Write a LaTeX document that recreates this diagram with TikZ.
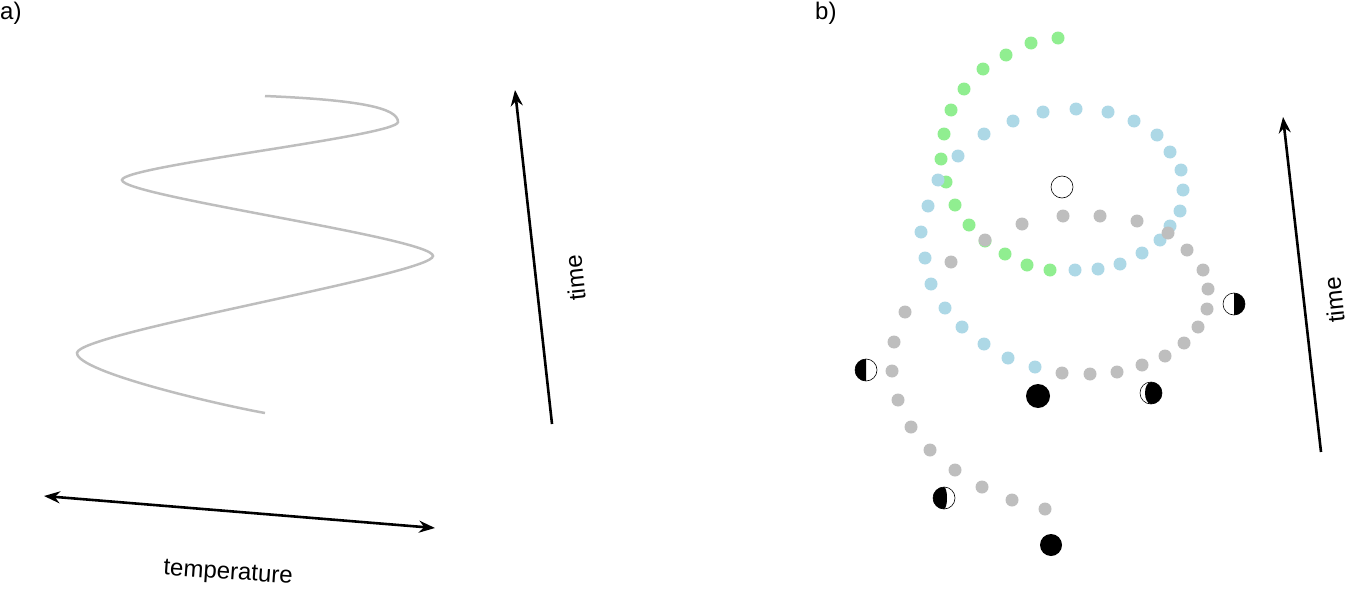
\documentclass[tikz,border=0pt]{standalone}
\usepackage{fontspec}
\setmainfont{Liberation Sans}
\usetikzlibrary{arrows.meta}
\definecolor{dgray}{RGB}{190,190,190}
\definecolor{dblue}{RGB}{173,216,230}
\definecolor{dgreen}{RGB}{144,238,144}
\begin{document}
\begin{tikzpicture}[x=1pt,y=-1pt,
  lbl/.style={font=\fontsize{24}{28}\selectfont,inner sep=0},
  tip/.style={Stealth[length=16pt,width=12pt]},
  arr/.style={line width=2.6pt,-{Stealth[length=16pt,width=12pt]}},
  moonc/.style={draw=black,line width=0.6pt,fill=white}]
\useasboundingbox (0,0) rectangle (1350,589);
\node[lbl,anchor=north west] (la) at (0,2) {a)};
\node[lbl,anchor=north west] (lb) at (815,2) {b)};
% a) curve
\draw[dgray,line width=2.5pt] (265,96) .. controls (360,100) and (398,108) .. (398,122)
  .. controls (398,136) and (122,166) .. (122,180)
  .. controls (122,196) and (433,238) .. (433,256)
  .. controls (433,274) and (77,333) .. (77,353)
  .. controls (77,372) and (220,405) .. (265,413);
\coordinate (t1) at (44,496); \coordinate (t2) at (435,528);
\draw[line width=2.6pt,{Stealth[length=16pt,width=12pt]}-{Stealth[length=16pt,width=12pt]}] (t1) -- (t2);
\node[lbl,rotate=-4] (temp) at (228,574) {temperature};
\coordinate (a1) at (552,424); \coordinate (a2) at (515,90);
\draw[arr] (a1) -- (a2);
\node[lbl,rotate=96] (timea) at (575,278) {time};
\coordinate (b1) at (1321,452); \coordinate (b2) at (1283,117);
\draw[arr] (b1) -- (b2);
\node[lbl,rotate=96] (timeb) at (1334,300) {time};
% dots
\foreach \p in {(1058,38),(1031,43),(1006,55),(983,69),(964,89),(951,110),(944,134),(941,159),(946,182),(955,205),(969,225),(985,241),(1005,254),(1027,265),(1050,270)}
  \fill[dgreen] \p circle (6.5);
\foreach \p in {(1075,270),(1098,269),(1120,264),(1142,253),(1160,240),(1170,226),(1180,211),(1183,190),(1181,170),(1170,152),(1157,135),(1134,121),(1108,112),(1076,109),(1043,112),(1013,121),(984,134),(958,156),(938,180),(928,206),(921,232),(925,258),(931,284),(945,308),(962,327),(984,344),(1008,358),(1035,367)}
  \fill[dblue] \p circle (6.5);
\foreach \p in {(1062,373),(1090,374),(1117,372),(1142,365),(1165,356),(1184,343),(1198,327),(1207,309),(1208,289),(1203,270),(1187,250),(1168,233),(1137,221),(1100,216),(1063,216),(1022,224),(985,240),(951,262),(905,312),(894,342),(892,371),(898,400),(911,427),(930,450),(955,470),(982,487),(1012,500),(1045,509)}
  \fill[dgray] \p circle (6.5);
% open circle
\draw[moonc] (1062,187) circle (11);
% moons (inner scopes use y upward)
\draw[moonc] (866,370) circle (11);
\begin{scope}[shift={(866,370)},yscale=-1]
  \fill (0,11) arc[start angle=90,end angle=270,radius=11] -- cycle;
\end{scope}
\draw[moonc] (1234,304) circle (11);
\begin{scope}[shift={(1234,304)},yscale=-1]
  \fill (0,11) arc[start angle=90,end angle=-90,radius=11] -- cycle;
\end{scope}
\fill (1038,396) circle (12);
\fill (1051,545) circle (11);
\draw[moonc] (1151,393) circle (11);
\begin{scope}[shift={(1151,393)},yscale=-1]
  \fill (0,11) arc[start angle=90,end angle=-90,radius=11] arc[start angle=270,end angle=90,x radius=6,y radius=11];
\end{scope}
\draw[moonc] (944,498) circle (11);
\begin{scope}[shift={(944,498)},yscale=-1]
  \fill (0,11) arc[start angle=90,end angle=270,radius=11] arc[start angle=-90,end angle=90,x radius=3,y radius=11];
\end{scope}
\end{tikzpicture}
\end{document}
